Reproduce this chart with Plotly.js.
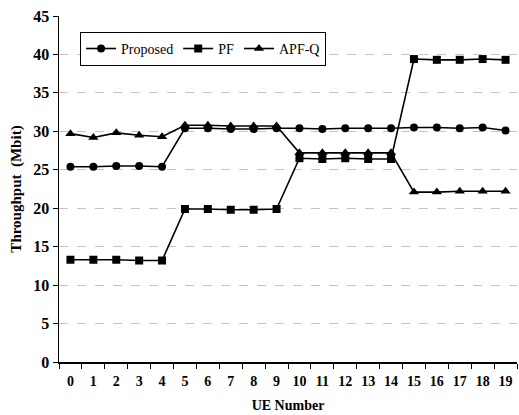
<!DOCTYPE html>
<html><head><meta charset="utf-8">
<script src="https://cdn.plot.ly/plotly-3.0.1.min.js"></script>
<style>html,body{margin:0;padding:0;background:#fff;}#c{width:519px;height:415px;}</style>
</head><body><div id="c"></div>
<script>
const ueNumbers = ['0','1','2','3','4','5','6','7','8','9','10','11','12','13','14','15','16','17','18','19'];
const proposed = [25.4,25.4,25.5,25.5,25.4,30.4,30.4,30.3,30.3,30.4,30.4,30.3,30.4,30.4,30.4,30.5,30.5,30.4,30.5,30.1];
const pf = [13.3,13.3,13.3,13.2,13.2,19.9,19.9,19.8,19.8,19.9,26.5,26.4,26.5,26.4,26.4,39.4,39.3,39.3,39.4,39.3];
const apfq = [29.7,29.2,29.8,29.5,29.3,30.8,30.8,30.7,30.7,30.7,27.2,27.2,27.2,27.2,27.2,22.1,22.1,22.2,22.2,22.2];

const line = {color:'#000', width:1.6};
const traces = [
  {x:ueNumbers, y:proposed, name:'Proposed', mode:'lines+markers', line:line, marker:{symbol:'circle', size:8, color:'#000'}},
  {x:ueNumbers, y:pf, name:'PF', mode:'lines+markers', line:line, marker:{symbol:'square', size:8, color:'#000'}},
  {x:ueNumbers, y:apfq, name:'APF-Q', mode:'lines+markers', line:line, marker:{symbol:'triangle-up', size:9, color:'#000'}}
];
const font = {family:'"Liberation Serif", "Times New Roman", serif', color:'#000'};
const layout = {
  width:519, height:415,
  margin:{l:59, r:2, t:16, b:53},
  paper_bgcolor:'#fff', plot_bgcolor:'#fff',
  font:Object.assign({size:14}, font),
  showlegend:true,
  legend:{orientation:'h', x:0.046, y:0.954, xanchor:'left', yanchor:'top',
    bordercolor:'#000', borderwidth:1, bgcolor:'#fff',
    font:Object.assign({size:14}, font), itemwidth:30, tracegroupgap:0},
  xaxis:{type:'category', tickson:'boundaries', ticks:'outside', ticklen:5, tickcolor:'#000',
    showline:true, linecolor:'#000', linewidth:1.5, showgrid:false, zeroline:false,
    tickangle:0, ticklabelstandoff:6,
    tickfont:Object.assign({size:14, weight:'bold'}, font),
    title:{text:'<b>UE Number</b>', font:Object.assign({size:14}, font), standoff:12},
    range:[-0.5,19.5]},
  yaxis:{range:[0,45], dtick:5, ticks:'outside', ticklen:5, tickcolor:'#000',
    showline:true, linecolor:'#000', linewidth:1.5, zeroline:false,
    showgrid:true, gridcolor:'#c4c4c4', griddash:'dash', gridwidth:1,
    tickfont:Object.assign({size:16, weight:'bold'}, font),
    title:{text:'<b>Throughput  (Mbit)</b>', font:Object.assign({size:15}, font), standoff:8}}
};
Plotly.newPlot('c', traces, layout, {staticPlot:true, displayModeBar:false});
</script></body></html>
